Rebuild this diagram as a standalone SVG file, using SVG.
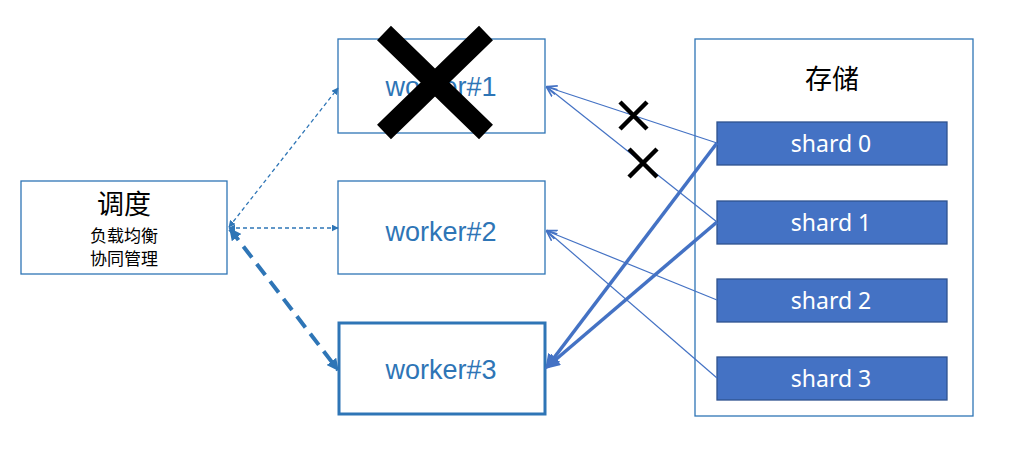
<svg xmlns="http://www.w3.org/2000/svg" width="1024" height="456" viewBox="0 0 1024 456">
<style>
.box{fill:#fff;stroke:#2e75b6;stroke-width:1.3}
.wt{font-family:"Liberation Sans","Noto Sans",sans-serif;font-size:27px;fill:#2e75b6;text-anchor:middle}
.cn{font-family:"Noto Sans CJK SC",sans-serif;fill:#000;text-anchor:middle}
.shard{fill:#4472c4;stroke:#2f528f;stroke-width:1.3}
.st{font-family:"Noto Sans","Liberation Sans",sans-serif;font-size:23px;fill:#fff;text-anchor:middle}
.thin{stroke:#4472c4;stroke-width:1.2;fill:none}
.thick{stroke:#4472c4;stroke-width:3.5;fill:none}
.dash{stroke:#2e75b6;stroke-width:1.3;stroke-dasharray:4 3;fill:none}
.dashb{stroke:#2e75b6;stroke-width:4;stroke-dasharray:14 8;fill:none}
.cross{stroke:#000;fill:none}
</style>
<defs>
<marker id="a" viewBox="0 0 10 10" refX="9" refY="5" markerWidth="7" markerHeight="7" markerUnits="userSpaceOnUse" orient="auto-start-reverse"><path d="M0,0 L10,5 L0,10 z" fill="#2e75b6"/></marker>
<marker id="ab" viewBox="0 0 10 10" refX="9" refY="5" markerWidth="12" markerHeight="12" markerUnits="userSpaceOnUse" orient="auto-start-reverse"><path d="M0,0 L10,5 L0,10 z" fill="#2e75b6"/></marker>
<marker id="o" viewBox="0 0 10 10" refX="9" refY="5" markerWidth="11" markerHeight="11" markerUnits="userSpaceOnUse" orient="auto"><path d="M0,1 L10,5 L0,9" fill="none" stroke="#4472c4" stroke-width="1.5"/></marker>
<marker id="ot" viewBox="0 0 10 10" refX="8" refY="5" markerWidth="15" markerHeight="15" markerUnits="userSpaceOnUse" orient="auto"><path d="M0,0 L10,5 L0,10 z" fill="#4472c4"/></marker>
</defs>

<g id="scheduler">
<rect class="box" x="21" y="181" width="206" height="93"/>
<text class="cn" x="124" y="214" font-size="27">调度</text>
<text class="cn" x="124" y="242" font-size="17">负载均衡</text>
<text class="cn" x="124" y="265" font-size="17">协同管理</text>
</g>

<g id="worker1">
<rect class="box" x="338" y="39" width="207" height="94"/>
<text class="wt" x="441" y="96">worker#1</text>
</g>

<g id="worker2">
<rect class="box" x="338" y="181" width="207" height="93"/>
<text class="wt" x="441" y="241">worker#2</text>
</g>

<g id="worker3">
<rect class="box" x="339" y="323" width="206" height="91" style="stroke-width:3"/>
<text class="wt" x="441" y="379">worker#3</text>
</g>

<g id="storage">
<rect class="box" x="695" y="39" width="278" height="377"/>
<text class="cn" x="832" y="89" font-size="27">存储</text>
</g>

<g id="shard0"><rect class="shard" x="717" y="122" width="230" height="43"/><text class="st" x="831" y="152">shard 0</text></g>
<g id="shard1"><rect class="shard" x="717" y="201" width="230" height="43"/><text class="st" x="831" y="231">shard 1</text></g>
<g id="shard2"><rect class="shard" x="717" y="279" width="230" height="43"/><text class="st" x="831" y="309">shard 2</text></g>
<g id="shard3"><rect class="shard" x="717" y="357" width="230" height="43"/><text class="st" x="831" y="387">shard 3</text></g>

<g id="connectors">
<line class="dash" x1="229" y1="227" x2="338" y2="88" marker-start="url(#a)" marker-end="url(#a)"/>
<line class="dash" x1="229" y1="228" x2="338" y2="228" marker-start="url(#a)" marker-end="url(#a)"/>
<line class="dashb" x1="230" y1="229" x2="338" y2="370" marker-start="url(#ab)" marker-end="url(#ab)"/>
<line class="thin" x1="717" y1="143" x2="547" y2="87" marker-end="url(#o)"/>
<line class="thin" x1="717" y1="222" x2="547" y2="87" marker-end="url(#o)"/>
<line class="thin" x1="717" y1="300" x2="547" y2="231" marker-end="url(#o)"/>
<line class="thin" x1="717" y1="378" x2="547" y2="231" marker-end="url(#o)"/>
<line class="thick" x1="717" y1="143" x2="547" y2="367" marker-end="url(#ot)"/>
<line class="thick" x1="717" y1="222" x2="547" y2="367" marker-end="url(#ot)"/>
</g>

<g id="crosses">
<path class="cross" d="M384,33 L486,132 M486,33 L384,132" stroke-width="20"/>
<path class="cross" d="M620,102 L647,129 M647,102 L620,129" stroke-width="4.5"/>
<path class="cross" d="M629,149 L657,177 M657,149 L629,177" stroke-width="4.5"/>
</g>
</svg>
